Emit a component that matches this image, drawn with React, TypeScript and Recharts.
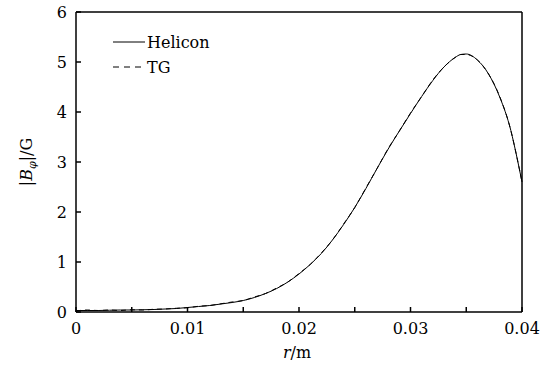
import React from "react";
import { LineChart, Line, XAxis, YAxis, ReferenceLine, Label } from "recharts";

const radius = [
  0, 0.001, 0.002, 0.003, 0.004, 0.005, 0.006, 0.007, 0.008, 0.009, 0.01,
  0.011, 0.012, 0.013, 0.014, 0.015, 0.016, 0.017, 0.018, 0.019, 0.02, 0.021,
  0.022, 0.023, 0.024, 0.025, 0.026, 0.027, 0.028, 0.029, 0.03, 0.031, 0.032,
  0.033, 0.034, 0.0345, 0.035, 0.036, 0.037, 0.038, 0.039, 0.0395, 0.04,
];

const helicon = [
  0.03, 0.03, 0.03, 0.035, 0.04, 0.04, 0.045, 0.05, 0.06, 0.07, 0.09, 0.11,
  0.13, 0.16, 0.19, 0.23, 0.29, 0.37, 0.47, 0.6, 0.76, 0.95, 1.17, 1.44, 1.75,
  2.09, 2.47, 2.87, 3.26, 3.62, 3.97, 4.31, 4.63, 4.9, 5.09, 5.15, 5.16, 5.04,
  4.76, 4.3, 3.63, 3.14, 2.6,
];

const tg = [
  0.02, 0.04, 0.03, 0.04, 0.03, 0.045, 0.04, 0.055, 0.06, 0.075, 0.085, 0.115,
  0.13, 0.165, 0.2, 0.23, 0.3, 0.37, 0.48, 0.6, 0.77, 0.95, 1.18, 1.44, 1.76,
  2.09, 2.48, 2.87, 3.27, 3.62, 3.98, 4.31, 4.64, 4.9, 5.09, 5.15, 5.15, 5.04,
  4.76, 4.31, 3.63, 3.14, 2.6,
];

const xTicks = [0, 0.005, 0.01, 0.015, 0.02, 0.025, 0.03, 0.035, 0.04];
const xLabels = ["0", "", "0.01", "", "0.02", "", "0.03", "", "0.04"];
const yTicks = [0, 1, 2, 3, 4, 5, 6];

const data = radius.map((r, i) => ({ r, helicon: helicon[i], tg: tg[i] }));

const font = "DejaVu Serif";

const LegendBox = () => (
  <svg
    width={160}
    height={50}
    style={{ position: "absolute", left: 113, top: 34, display: "block" }}
  >
    <line x1={0} x2={32} y1={8} y2={8} stroke="#000" strokeWidth={1} />
    <text x={34} y={14} fontFamily={font} fontSize={16} fill="#000">
      Helicon
    </text>
    <line
      x1={0}
      x2={30}
      y1={33}
      y2={33}
      stroke="#000"
      strokeWidth={1}
      strokeDasharray="6 5"
    />
    <text x={34} y={39} fontFamily={font} fontSize={16} fill="#000">
      TG
    </text>
  </svg>
);

export default function App() {
  return (
    <div style={{ position: "absolute", left: 0, top: 0, width: 558, height: 374 }}>
      <LineChart
        width={558}
        height={374}
        data={data}
        margin={{ top: 12, right: 36, left: 0, bottom: 0 }}
      >
        <XAxis
          dataKey="r"
          type="number"
          domain={[0, 0.04]}
          ticks={xTicks}
          tickFormatter={(v: number) => xLabels[xTicks.indexOf(v)] ?? ""}
          height={62}
          tickSize={-5}
          tickMargin={16}
          stroke="#000"
          strokeWidth={1.5}
          tick={{ fill: "#000", fontSize: 16, fontFamily: font }}
          interval={0}
        >
          <Label
            content={() => (
              <text
                x={297}
                y={358}
                textAnchor="middle"
                fontFamily={font}
                fontSize={16}
                fill="#000"
              >
                <tspan fontStyle="italic">r</tspan>/m
              </text>
            )}
          />
        </XAxis>
        <YAxis
          type="number"
          domain={[0, 6]}
          ticks={yTicks}
          width={76}
          tickSize={-5}
          tickMargin={14}
          stroke="#000"
          strokeWidth={1.5}
          tick={{ fill: "#000", fontSize: 16, fontFamily: font }}
          interval={0}
        >
          <Label
            content={() => (
              <text
                x={0}
                y={0}
                transform="translate(32,162) rotate(-90)"
                textAnchor="middle"
                fontFamily={font}
                fontSize={16}
                fill="#000"
              >
                |<tspan fontStyle="italic">B</tspan>
                <tspan fontStyle="italic" fontSize={11} dy={4}>
                  φ
                </tspan>
                <tspan dy={-4}>|/G</tspan>
              </text>
            )}
          />
        </YAxis>
        <ReferenceLine y={6} stroke="#000" strokeWidth={1.5} />
        <ReferenceLine x={0.04} stroke="#000" strokeWidth={1.5} />
        <Line
          type="monotone"
          dataKey="helicon"
          stroke="#000"
          strokeWidth={1}
          dot={false}
          isAnimationActive={false}
        />
        <Line
          type="monotone"
          dataKey="tg"
          stroke="#000"
          strokeWidth={1}
          strokeDasharray="5 4"
          dot={false}
          isAnimationActive={false}
        />
      </LineChart>
      <LegendBox />
    </div>
  );
}
